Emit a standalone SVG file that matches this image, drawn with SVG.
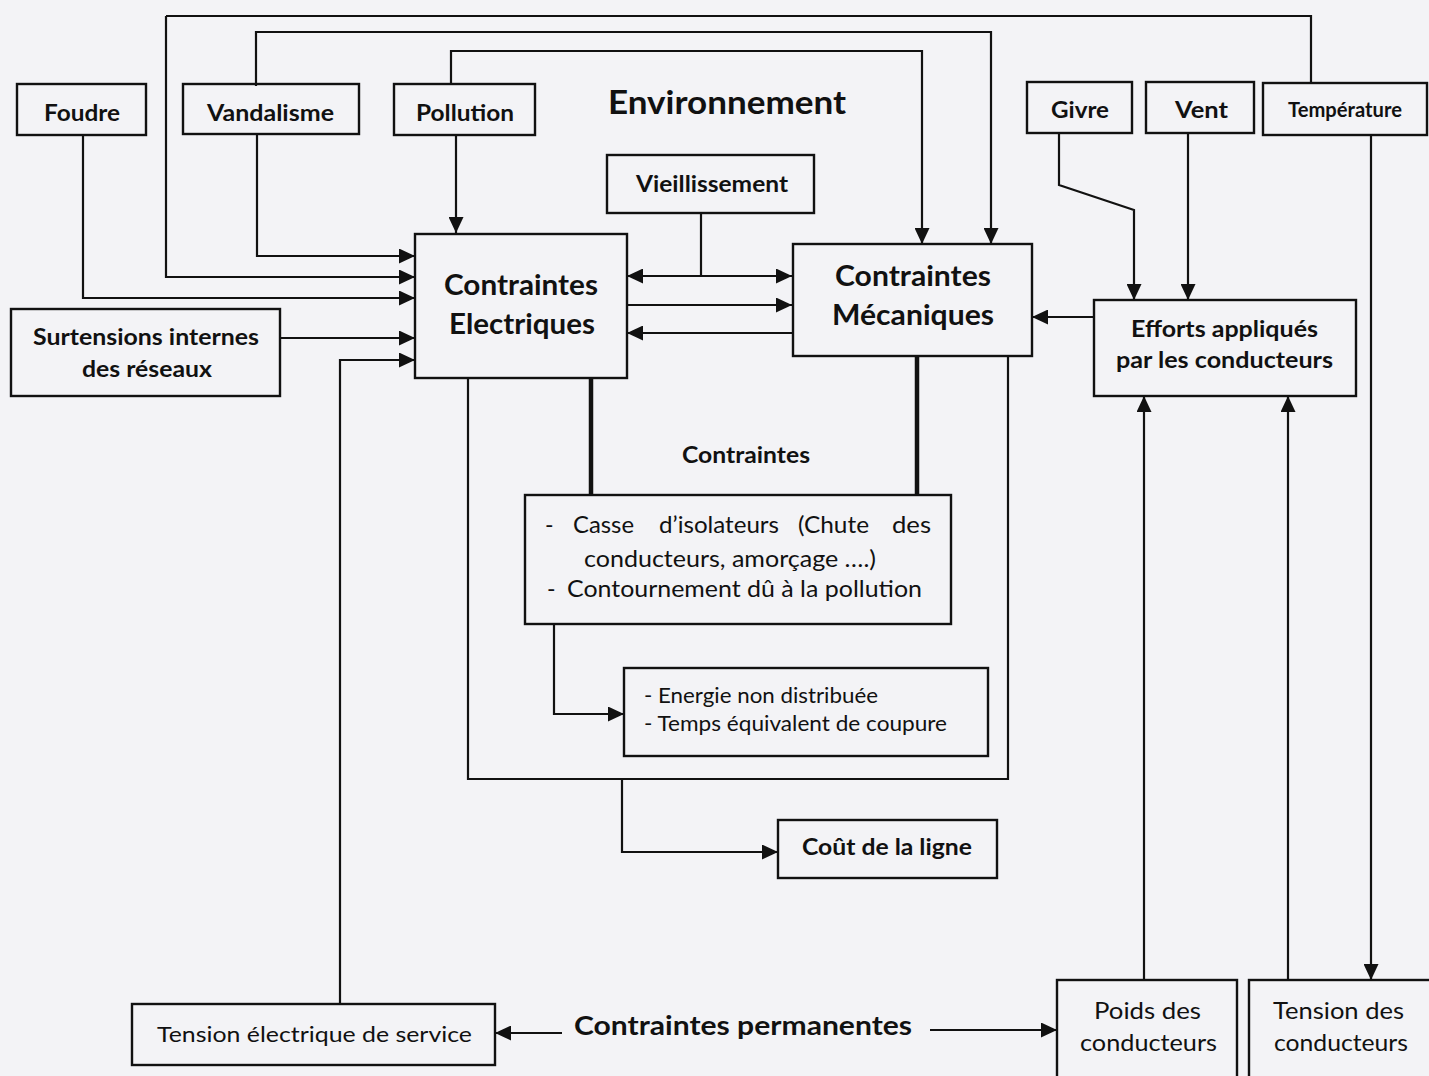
<svg xmlns="http://www.w3.org/2000/svg" width="1429" height="1076" viewBox="0 0 1429 1076">
<style>
.bg{fill:#f3f3f6}
.box{fill:none;stroke:#111;stroke-width:2.4}
.ln{fill:none;stroke:#111;stroke-width:2.2}
.thick{fill:none;stroke:#111;stroke-width:4.5}
.b{font-family:Lato,"Open Sans","DejaVu Sans",sans-serif;font-weight:bold;fill:#111}
.r{font-family:Lato,"Open Sans","DejaVu Sans",sans-serif;font-weight:normal;fill:#111}
</style>
<defs>
<marker id="ah" markerUnits="userSpaceOnUse" markerWidth="17" markerHeight="15" refX="16" refY="7.5" orient="auto-start-reverse">
<path d="M0,0 L16,7.5 L0,15 z" fill="#111"/>
</marker>
</defs>
<rect class="bg" x="0" y="0" width="1429" height="1076"/>

<g id="connectors">
<path class="ln" d="M166,16 H1311 V83"/>
<path class="ln" d="M166,16 V277 H415" marker-end="url(#ah)"/>
<path class="ln" d="M256,86 V32 H991 V244" marker-end="url(#ah)"/>
<path class="ln" d="M451,83 V51 H922 V244" marker-end="url(#ah)"/>
<path class="ln" d="M257,134 V256 H415" marker-end="url(#ah)"/>
<path class="ln" d="M456,135 V233" marker-end="url(#ah)"/>
<path class="ln" d="M83,135 V298 H415" marker-end="url(#ah)"/>
<path class="ln" d="M280,338 H415" marker-end="url(#ah)"/>
<path class="ln" d="M340,1004 V360 H415" marker-end="url(#ah)"/>
<path class="ln" d="M627,276 H792" marker-start="url(#ah)" marker-end="url(#ah)"/>
<path class="ln" d="M701,213 V276"/>
<path class="ln" d="M627,305 H792" marker-end="url(#ah)"/>
<path class="ln" d="M792,333 H627" marker-end="url(#ah)"/>
<path class="ln" d="M1094,317 H1032" marker-end="url(#ah)"/>
<path class="ln" d="M1059,133 V185 L1134,210 V300" marker-end="url(#ah)"/>
<path class="ln" d="M1188,133 V300" marker-end="url(#ah)"/>
<path class="ln" d="M1371,135 V980" marker-end="url(#ah)"/>
<path class="ln" d="M1144,980 V396" marker-end="url(#ah)"/>
<path class="ln" d="M1288,980 V396" marker-end="url(#ah)"/>
<path class="thick" d="M591,378 V495"/>
<path class="thick" d="M917,356 V495"/>
<path class="ln" d="M468,378 V779 H1008 V356"/>
<path class="ln" d="M622,779 V852 H778" marker-end="url(#ah)"/>
<path class="ln" d="M554,624 V714 H624" marker-end="url(#ah)"/>
<path class="ln" d="M562,1033 H495" marker-end="url(#ah)"/>
<path class="ln" d="M930,1030 H1057" marker-end="url(#ah)"/>
</g>

<g id="foudre">
<rect class="box" x="17" y="84" width="129" height="51"/>
<text class="b" x="44" y="121" font-size="22" textLength="76" lengthAdjust="spacingAndGlyphs">Foudre</text>
</g>
<g id="vandalisme">
<rect class="box" x="183" y="84" width="176" height="50"/>
<text class="b" x="207" y="121" font-size="22" textLength="127" lengthAdjust="spacingAndGlyphs">Vandalisme</text>
</g>
<g id="pollution">
<rect class="box" x="394" y="84" width="141" height="51"/>
<text class="b" x="416" y="121" font-size="22" textLength="98" lengthAdjust="spacingAndGlyphs">Pollution</text>
</g>
<g id="environnement">
<text class="b" x="608" y="114" font-size="32" textLength="238" lengthAdjust="spacingAndGlyphs">Environnement</text>
</g>
<g id="vieillissement">
<rect class="box" x="607" y="155" width="207" height="58"/>
<text class="b" x="636" y="192" font-size="22" textLength="152" lengthAdjust="spacingAndGlyphs">Vieillissement</text>
</g>
<g id="givre">
<rect class="box" x="1027" y="82" width="105" height="51"/>
<text class="b" x="1051" y="118" font-size="22" textLength="58" lengthAdjust="spacingAndGlyphs">Givre</text>
</g>
<g id="vent">
<rect class="box" x="1146" y="82" width="108" height="51"/>
<text class="b" x="1175" y="118" font-size="22" textLength="53" lengthAdjust="spacingAndGlyphs">Vent</text>
</g>
<g id="temperature">
<rect class="box" x="1263" y="83" width="164" height="52"/>
<text class="b" x="1288" y="117" font-size="20" textLength="114" lengthAdjust="spacingAndGlyphs">Température</text>
</g>
<g id="contraintes-electriques">
<rect class="box" x="415" y="234" width="212" height="144"/>
<text class="b" x="444" y="295" font-size="28" textLength="154" lengthAdjust="spacingAndGlyphs">Contraintes</text>
<text class="b" x="449" y="334" font-size="28" textLength="146" lengthAdjust="spacingAndGlyphs">Electriques</text>
</g>
<g id="contraintes-mecaniques">
<rect class="box" x="793" y="244" width="239" height="112"/>
<text class="b" x="835" y="286" font-size="28" textLength="156" lengthAdjust="spacingAndGlyphs">Contraintes</text>
<text class="b" x="832" y="325" font-size="28" textLength="162" lengthAdjust="spacingAndGlyphs">Mécaniques</text>
</g>
<g id="surtensions">
<rect class="box" x="11" y="309" width="269" height="87"/>
<text class="b" x="33" y="345" font-size="22" textLength="226" lengthAdjust="spacingAndGlyphs">Surtensions internes</text>
<text class="b" x="82" y="377" font-size="22" textLength="130" lengthAdjust="spacingAndGlyphs">des réseaux</text>
</g>
<g id="efforts">
<rect class="box" x="1094" y="300" width="262" height="96"/>
<text class="b" x="1131" y="337" font-size="22" textLength="187" lengthAdjust="spacingAndGlyphs">Efforts appliqués</text>
<text class="b" x="1116" y="368" font-size="22" textLength="217" lengthAdjust="spacingAndGlyphs">par les conducteurs</text>
</g>
<g id="label-contraintes">
<text class="b" x="682" y="463" font-size="22" textLength="128" lengthAdjust="spacingAndGlyphs">Contraintes</text>
</g>
<g id="casse">
<rect class="box" x="525" y="495" width="426" height="129"/>
<text class="r" y="533" font-size="23"><tspan x="545">-</tspan><tspan x="573" textLength="61" lengthAdjust="spacingAndGlyphs">Casse</tspan><tspan x="659" textLength="120" lengthAdjust="spacingAndGlyphs">d’isolateurs</tspan><tspan x="798" textLength="71" lengthAdjust="spacingAndGlyphs">(Chute</tspan><tspan x="892" textLength="39" lengthAdjust="spacingAndGlyphs">des</tspan></text>
<text class="r" x="584" y="567" font-size="23" textLength="292" lengthAdjust="spacingAndGlyphs">conducteurs, amorçage ….)</text>
<text class="r" y="597" font-size="23"><tspan x="547">-</tspan><tspan x="567" textLength="355" lengthAdjust="spacingAndGlyphs">Contournement dû à la pollution</tspan></text>
</g>
<g id="energie">
<rect class="box" x="624" y="668" width="364" height="88"/>
<text class="r" x="644" y="703" font-size="22" textLength="234" lengthAdjust="spacingAndGlyphs">- Energie non distribuée</text>
<text class="r" x="644" y="731" font-size="22" textLength="303" lengthAdjust="spacingAndGlyphs">- Temps équivalent de coupure</text>
</g>
<g id="cout">
<rect class="box" x="778" y="820" width="219" height="58"/>
<text class="b" x="802" y="855" font-size="23" textLength="170" lengthAdjust="spacingAndGlyphs">Coût de la ligne</text>
</g>
<g id="tension-service">
<rect class="box" x="132" y="1004" width="363" height="61"/>
<text class="r" x="157" y="1042" font-size="22" textLength="315" lengthAdjust="spacingAndGlyphs">Tension électrique de service</text>
</g>
<g id="contraintes-permanentes">
<text class="b" x="574" y="1035" font-size="26" textLength="338" lengthAdjust="spacingAndGlyphs">Contraintes permanentes</text>
</g>
<g id="poids">
<rect class="box" x="1057" y="980" width="180" height="110"/>
<text class="r" x="1094" y="1019" font-size="23" textLength="107" lengthAdjust="spacingAndGlyphs">Poids des</text>
<text class="r" x="1080" y="1051" font-size="23" textLength="137" lengthAdjust="spacingAndGlyphs">conducteurs</text>
</g>
<g id="tension-conducteurs">
<rect class="box" x="1249" y="980" width="200" height="110"/>
<text class="r" x="1273" y="1019" font-size="23" textLength="131" lengthAdjust="spacingAndGlyphs">Tension des</text>
<text class="r" x="1274" y="1051" font-size="23" textLength="134" lengthAdjust="spacingAndGlyphs">conducteurs</text>
</g>
</svg>
